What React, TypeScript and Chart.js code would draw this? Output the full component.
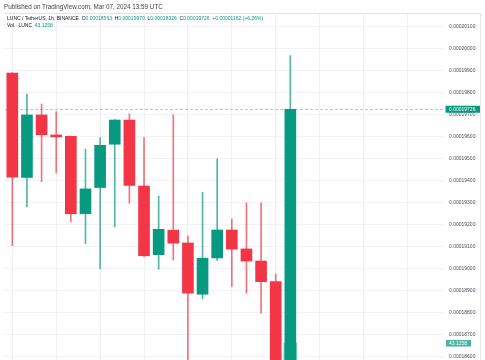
import React, { useEffect, useRef } from "react";
import { Chart, registerables } from "chart.js";

Chart.register(...registerables);

// ---- data ----
const categories = [
  "18:00", "19:00", "20:00", "21:00", "22:00", "23:00", "00:00", "01:00", "02:00", "03:00",
  "04:00", "05:00", "06:00", "07:00", "08:00", "09:00", "10:00", "11:00", "12:00", "13:00",
  "14:00", "15:00", "16:00", "17:00", "18:00", "19:00", "20:00", "21:00", "22:00", "23:00",
];
const opens = [
  0.0001989, 0.00019416, 0.000197, 0.00019609, 0.00019603, 0.00019251, 0.0001937, 0.00019567, 0.00019677, 0.00019377,
  0.00019065, 0.00019176, 0.00019118, 0.00018885, 0.0001905, 0.00019177, 0.00019091, 0.00019036, 0.00018942, 0.00018563,
];
const highs = [
  0.00019892, 0.00019795, 0.0001975, 0.00019715, 0.00019605, 0.00019545, 0.00019597, 0.0001968, 0.00019705, 0.00019597,
  0.00019332, 0.00019701, 0.0001915, 0.00019349, 0.000195, 0.00019227, 0.000193, 0.000193, 0.00018977, 0.0001997,
];
const lows = [
  0.00019106, 0.00019282, 0.00019397, 0.00019438, 0.00019214, 0.00019115, 0.00019, 0.00019192, 0.00019299, 0.00019055,
  0.00018999, 0.00019041, 0.0001856, 0.00018864, 0.00019038, 0.0001892, 0.0001889, 0.00018799, 0.0001854, 0.00018326,
];
const closes = [
  0.00019417, 0.000197, 0.0001961, 0.000196, 0.00019251, 0.00019364, 0.00019562, 0.00019677, 0.0001938, 0.0001906,
  0.0001918, 0.00019117, 0.0001889, 0.00019049, 0.00019177, 0.0001909, 0.00019036, 0.00018942, 0.00018564, 0.00019726,
];
const volumes: (number | null)[] = [
  null, null, null, null, null, null, null, null, null, null,
  null, null, null, null, null, null, null, null, null, 43.1258,
];
const priceTicks = [
  0.000186, 0.000187, 0.000188, 0.000189, 0.00019, 0.000191, 0.000192, 0.000193,
  0.000194, 0.000195, 0.000196, 0.000197, 0.000198, 0.000199, 0.0002, 0.000201,
];
const lastPrice = 0.00019726;
const lastVolume = 43.1258;

const UP = "#089981";
const DOWN = "#F23645";
const UP_WICK = "rgba(8,153,129,0.7)";
const DOWN_WICK = "rgba(242,54,69,0.7)";
const FONT = "'Liberation Sans', Arial, sans-serif";

export default function App() {
  const canvasRef = useRef<HTMLCanvasElement | null>(null);

  useEffect(() => {
    const canvas = canvasRef.current;
    if (!canvas) return;
    const colors = opens.map((o, i) => (closes[i] >= o ? UP : DOWN));
    const wickColors = opens.map((o, i) => (closes[i] >= o ? UP_WICK : DOWN_WICK));

    const overlay = {
      id: "overlay",
      beforeDatasetsDraw(chart: any) {
        const { ctx, chartArea } = chart;
        const y = chart.scales.y.getPixelForValue(lastPrice);
        ctx.save();
        ctx.strokeStyle = "rgba(8,153,129,0.4)";
        ctx.lineWidth = 1;
        ctx.setLineDash([3, 2]);
        ctx.beginPath();
        ctx.moveTo(chartArea.left, Math.round(y) + 0.5);
        ctx.lineTo(chartArea.right, Math.round(y) + 0.5);
        ctx.stroke();
        ctx.restore();
      },
      afterDraw(chart: any) {
        const { ctx } = chart;
        ctx.save();
        // borders
        ctx.strokeStyle = "#e0e3eb";
        ctx.lineWidth = 1;
        ctx.beginPath();
        ctx.moveTo(4, 13.5);
        ctx.lineTo(480.5, 13.5);
        ctx.moveTo(480.5, 13.5);
        ctx.lineTo(480.5, 360);
        ctx.stroke();
        // price label
        const py = chart.scales.y.getPixelForValue(lastPrice);
        ctx.fillStyle = UP;
        ctx.fillRect(445.5, py - 3.5, 34.5, 7);
        ctx.fillStyle = "#ffffff";
        ctx.font = `5px ${FONT}`;
        ctx.textBaseline = "middle";
        ctx.textAlign = "left";
        ctx.fillText(lastPrice.toFixed(8), 449, py + 0.3);
        // volume label
        const vy = chart.scales.yv.getPixelForValue(lastVolume);
        ctx.fillStyle = "#4fb3a2";
        ctx.fillRect(446, vy - 3, 25, 6.5);
        ctx.fillStyle = "#ffffff";
        ctx.fillText(lastVolume.toFixed(4), 449, vy + 0.3);
        ctx.restore();
      },
    };

    const chart = new Chart(canvas, {
      type: "bar",
      data: {
        labels: categories,
        datasets: [
          {
            label: "Body",
            data: opens.map((o, i) => [o, closes[i]]) as any,
            backgroundColor: colors,
            barThickness: 11,
            grouped: false,
            order: 1,
            yAxisID: "y",
          } as any,
          {
            label: "Wick",
            data: lows.map((l, i) => [l, highs[i]]) as any,
            backgroundColor: wickColors,
            barThickness: 1,
            grouped: false,
            order: 2,
            yAxisID: "y",
          } as any,
          {
            label: "Volume",
            data: volumes as any,
            backgroundColor: "rgba(8,153,129,0.5)",
            barThickness: 13,
            grouped: false,
            order: 3,
            yAxisID: "yv",
          } as any,
        ],
      },
      options: {
        animation: false,
        responsive: false,
        maintainAspectRatio: false,
        layout: { padding: { top: 14, left: 5, right: 0, bottom: 0 } },
        plugins: { legend: { display: false }, tooltip: { enabled: false }, title: { display: false } },
        scales: {
          x: {
            type: "category",
            offset: true,
            ticks: { display: false },
            border: { display: false },
            grid: {
              offset: false,
              drawTicks: false,
              color: (c: any) => (c.index % 3 === 0 ? "#eef1f6" : "rgba(0,0,0,0)"),
            },
            afterFit: (s: any) => {
              s.height = 0;
              s.paddingTop = 0;
              s.paddingBottom = 0;
            },
          },
          y: {
            type: "linear",
            position: "right",
            min: 0.00018586,
            max: 0.00020159,
            afterBuildTicks: (s: any) => {
              s.ticks = priceTicks.map((v) => ({ value: v }));
            },
            ticks: {
              padding: 5,
              color: "#4a4e5a",
              font: { size: 5, family: FONT },
              callback: (v: any) => Number(v).toFixed(8),
            },
            border: { display: false },
            grid: { color: "#f0f2f7", drawTicks: false },
            afterFit: (s: any) => {
              s.width = 41;
              s.paddingTop = 0;
              s.paddingBottom = 0;
            },
          },
          yv: {
            type: "linear",
            display: false,
            min: 0,
            max: 880,
          },
        },
      },
      plugins: [overlay],
    });
    return () => chart.destroy();
  }, []);

  const dark = "#131722";
  const teal = UP;
  return (
    <div style={{ position: "fixed", left: 0, top: 0, width: 485, height: 360, background: "#fff", overflow: "hidden" }}>
      <canvas ref={canvasRef} width={485} height={360} style={{ position: "absolute", left: 0, top: 0, width: 485, height: 360 }} />
      <div style={{ position: "absolute", left: 4, top: 2.5, fontFamily: FONT, fontSize: 6.3, lineHeight: "7px", color: "#444", whiteSpace: "pre" }}>
        Published on TradingView.com, Mar 07, 2024 13:59 UTC
      </div>
      <div style={{ position: "absolute", left: 7, top: 14.5, fontFamily: FONT, fontSize: 5, lineHeight: "7px", color: dark, whiteSpace: "pre" }}>
        <span>LUNC / TetherUS, 1h, BINANCE  </span>
        <span>O</span><span style={{ color: teal }}>0.00018563</span>
        <span>  H</span><span style={{ color: teal }}>0.00019970</span>
        <span>  L</span><span style={{ color: teal }}>0.00018326</span>
        <span>  C</span><span style={{ color: teal }}>0.00019726</span>
        <span style={{ color: teal }}>  +0.00001162 (+6.26%)</span>
      </div>
      <div style={{ position: "absolute", left: 7, top: 21.5, fontFamily: FONT, fontSize: 5, lineHeight: "7px", color: dark, whiteSpace: "pre" }}>
        <span>Vol · LUNC  </span>
        <span style={{ color: teal }}>43.1258</span>
      </div>
    </div>
  );
}
